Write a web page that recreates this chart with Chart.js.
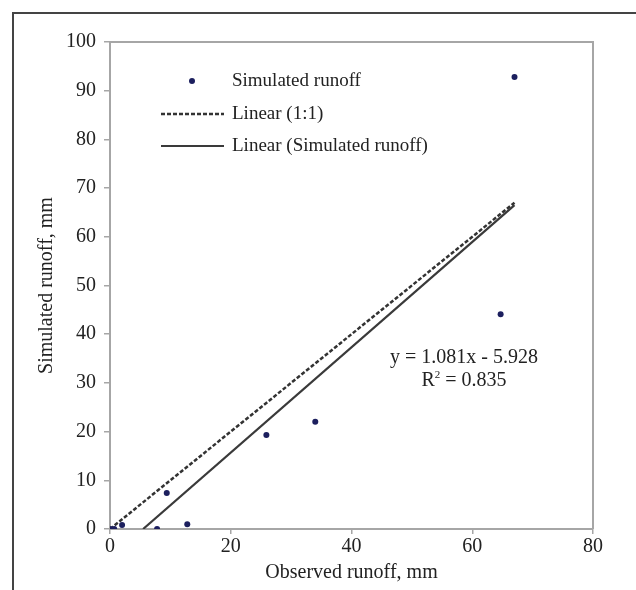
<!DOCTYPE html>
<html>
<head>
<meta charset="utf-8">
<script src="https://cdn.jsdelivr.net/npm/chart.js@4/dist/chart.umd.min.js"></script>
<style>
  html, body { margin: 0; padding: 0; background: #fff; }
  #wrap { position: relative; width: 636px; height: 590px; overflow: hidden; }
  #frame { position: absolute; left: 12px; top: 12px; width: 700px; height: 700px;
           border-left: 2px solid #444; border-top: 2px solid #444; box-sizing: border-box; }
  canvas { position: absolute; left: 0; top: 0; }
</style>
</head>
<body>
<div id="wrap">
  <div id="frame"></div>
  <canvas id="c" width="636" height="590"></canvas>
</div>
<script>
// ---- Data ----
const observed  = [0, 0.7, 2.0, 7.8, 9.4, 12.8, 25.9, 34.0, 64.7, 67.0];
const simulated = [0, 0,   0.8, 0,   7.4, 1.0,  19.3, 22.0, 44.1, 92.8];
const slope = 1.081;
const intercept = -5.928;
const r2 = 0.835;
const xTicks = [0, 20, 40, 60, 80];
const yTicks = [0, 10, 20, 30, 40, 50, 60, 70, 80, 90, 100];
const seriesNames = ['Simulated runoff', 'Linear (1:1)', 'Linear (Simulated runoff)'];

// Derived line data
const xMax = Math.max(...observed);
const xStartReg = -intercept / slope;
const points = observed.map((x, i) => ({ x: x, y: simulated[i] }));
const oneToOne = [{ x: 0, y: 0 }, { x: xMax, y: xMax }];
const regLine = [{ x: xStartReg, y: 0 }, { x: xMax, y: slope * xMax + intercept }];

const FONT = "'Liberation Serif', 'Times New Roman', serif";
const TXT = '#222';
const AXIS = '#a6a6a6';

const overlay = {
  id: 'overlay',
  afterDatasetsDraw(chart) {
    const { ctx, chartArea: a } = chart;
    ctx.save();
    // plot box top & right border
    ctx.strokeStyle = AXIS; ctx.lineWidth = 2;
    ctx.beginPath();
    ctx.moveTo(a.left, a.top); ctx.lineTo(a.right, a.top); ctx.lineTo(a.right, a.bottom);
    ctx.stroke();

    // legend
    ctx.font = '19px ' + FONT;
    ctx.fillStyle = TXT;
    ctx.textBaseline = 'middle';
    ctx.textAlign = 'left';
    const lx = a.left + 51, tx = a.left + 122;
    const rows = [a.top + 39, a.top + 72, a.top + 104];
    // row 1: marker
    ctx.fillStyle = '#1c1f5e';
    ctx.beginPath(); ctx.arc(a.left + 82, rows[0], 3, 0, Math.PI * 2); ctx.fill();
    ctx.fillStyle = TXT;
    ctx.fillText(seriesNames[0], tx, rows[0]);
    // row 2: dashed
    ctx.strokeStyle = '#333'; ctx.lineWidth = 2.5; ctx.setLineDash([4, 2]);
    ctx.beginPath(); ctx.moveTo(lx, rows[1]); ctx.lineTo(a.left + 114, rows[1]); ctx.stroke();
    ctx.fillText(seriesNames[1], tx, rows[1]);
    // row 3: solid
    ctx.setLineDash([]); ctx.lineWidth = 2.2; ctx.strokeStyle = '#3a3a3a';
    ctx.beginPath(); ctx.moveTo(lx, rows[2]); ctx.lineTo(a.left + 114, rows[2]); ctx.stroke();
    ctx.fillText(seriesNames[2], tx, rows[2]);

    // equation
    const ex = a.left + 354;
    ctx.font = '20px ' + FONT;
    ctx.textAlign = 'center';
    ctx.fillText('y = ' + slope.toFixed(3) + 'x - ' + Math.abs(intercept).toFixed(3), ex, a.top + 316);
    // R² line with superscript
    const partA = 'R', partB = ' = ' + r2.toFixed(3);
    ctx.font = '20px ' + FONT;
    const wA = ctx.measureText(partA).width, wB = ctx.measureText(partB).width;
    ctx.font = '11px ' + FONT;
    const wS = ctx.measureText('2').width;
    const total = wA + wS + wB;
    let sx = ex - total / 2;
    ctx.textAlign = 'left';
    ctx.font = '20px ' + FONT;
    ctx.fillText(partA, sx, a.top + 339);
    ctx.font = '11px ' + FONT;
    ctx.fillText('2', sx + wA, a.top + 333);
    ctx.font = '20px ' + FONT;
    ctx.fillText(partB, sx + wA + wS, a.top + 339);
    ctx.restore();
  }
};

new Chart(document.getElementById('c'), {
  type: 'scatter',
  data: {
    datasets: [
      { label: seriesNames[0], data: points, showLine: false,
        pointRadius: 3, pointBackgroundColor: '#1c1f5e', pointBorderWidth: 0, order: 0 },
      { label: seriesNames[1], data: oneToOne, showLine: true, pointRadius: 0,
        borderColor: '#333', borderWidth: 2.5, borderDash: [4, 2], order: 2 },
      { label: seriesNames[2], data: regLine, showLine: true, pointRadius: 0,
        borderColor: '#3a3a3a', borderWidth: 2.2, order: 1 }
    ]
  },
  options: {
    responsive: false,
    animation: false,
    devicePixelRatio: 1,
    layout: { padding: { left: 0, top: 42, right: 43, bottom: 0 } },
    plugins: { legend: { display: false }, tooltip: { enabled: false } },
    scales: {
      x: {
        type: 'linear', min: 0, max: 80,
        afterBuildTicks: s => { s.ticks = xTicks.map(v => ({ value: v })); },
        afterFit: s => { s.height = 61; },
        grid: { drawOnChartArea: false, drawTicks: true, tickLength: 5, color: AXIS, lineWidth: 1.5 },
        border: { color: AXIS, width: 2 },
        ticks: { color: TXT, font: { family: FONT, size: 20 }, padding: 1, maxRotation: 0 },
        title: { display: true, text: 'Observed runoff, mm', color: TXT,
                 font: { family: FONT, size: 20 }, padding: { top: 0, bottom: 5 } }
      },
      y: {
        type: 'linear', min: 0, max: 100,
        afterBuildTicks: s => { s.ticks = yTicks.map(v => ({ value: v })); },
        afterFit: s => { s.width = 110; },
        grid: { drawOnChartArea: false, drawTicks: true, tickLength: 6, color: AXIS, lineWidth: 1.5 },
        border: { color: AXIS, width: 2 },
        ticks: { color: TXT, font: { family: FONT, size: 20 }, padding: 8 },
        title: { display: true, text: 'Simulated runoff, mm', color: TXT,
                 font: { family: FONT, size: 20 }, padding: { top: 35, bottom: 0 } }
      }
    }
  },
  plugins: [overlay]
});
</script>
</body>
</html>
